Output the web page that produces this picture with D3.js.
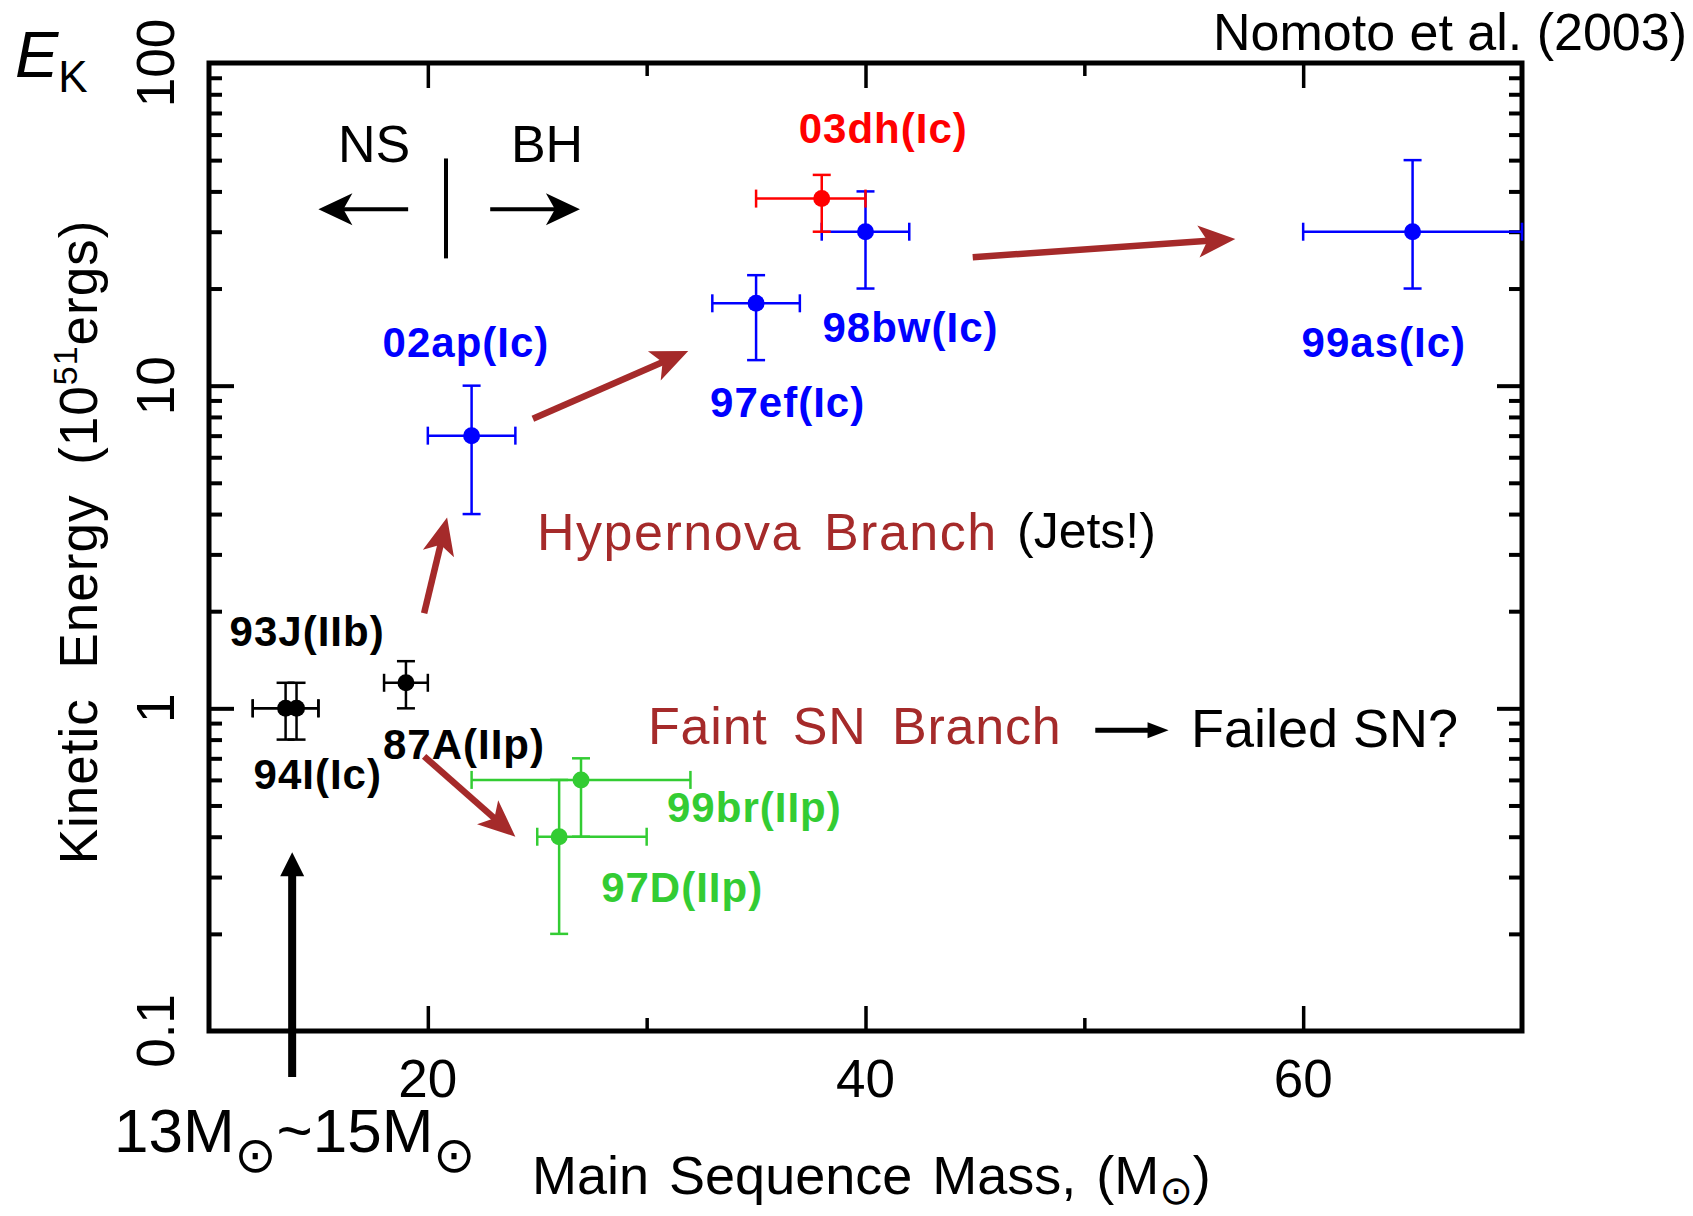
<!DOCTYPE html>
<html>
<head>
<meta charset="utf-8">
<script src="https://cdn.jsdelivr.net/npm/d3@7"></script>
<style>
  body { margin: 0; background: #fff; }
  svg { display: block; }
</style>
</head>
<body>
<div id="chart"></div>
<script>
// supernovae: main sequence mass (Msun) and kinetic energy (1e51 erg)
const names = ["93J(IIb)", "94I(Ic)", "87A(IIp)", "99br(IIp)", "97D(IIp)", "02ap(Ic)", "97ef(Ic)", "98bw(Ic)", "99as(Ic)", "03dh(Ic)"];
const groups = ["normal", "normal", "normal", "faint", "faint", "hyper", "hyper", "hyper", "hyper", "new"];
const mass = [13.5, 14, 19, 27, 26, 22, 35, 40, 65, 38];
const massLo = [12, 12, 18, 22, 25, 20, 33, 38, 60, 35];
const massHi = [15, 15, 20, 32, 30, 24, 37, 42, 70, 40];
const energy = [1, 1, 1.2, 0.6, 0.4, 7, 18, 30, 30, 38];
const energyLo = [0.8, 0.8, 1.0, 0.4, 0.2, 4, 12, 20, 20, 30];
const energyHi = [1.2, 1.2, 1.4, 0.7, 0.6, 10, 22, 40, 50, 45];

const xTicks = [20, 40, 60];
const xMinorTicks = [30, 50];
const yTicks = [0.1, 1, 10, 100];
const yTickLabels = ["0.1", "1", "10", "100"];

// annotation arrows in data coords: [[mass, energy] from, [mass, energy] to]
const branchArrows = [
  [[19.83, 1.97], [20.88, 3.9]],
  [[24.8, 7.9], [31.9, 12.8]],
  [[44.9, 25], [56.9, 28.5]],
  [[19.83, 0.71], [24.0, 0.40]]
];
const nsBhArrows = [
  [[19.1, 35.2], [15.0, 35.2]],
  [[22.85, 35.2], [26.95, 35.2]]
];
const nsBhDivider = [[20.83, 24.8], [20.83, 50.6]];
const massArrow = [[13.8, 0.072], [13.8, 0.358]];
const failedArrow = [[50.5, 0.855], [53.85, 0.855]];

// layout only: label offset from its point (start x, baseline y)
const labelOffsets = [[-56, -62], [-43, 81], [-23, 76], [86, 42], [42, 65], [-89, -79], [-46, 114], [-43, 110], [-111, 125], [-23, -56]];
const groupColor = { normal: "#000000", faint: "#33cc33", hyper: "#0000ff", new: "#ff0000" };
const branchColor = "#a52a2a";

const width = 1693;
const height = 1216;
const font = "'Liberation Sans', Arial, sans-serif";
const sunFont = "'DejaVu Sans'";

const svg = d3.select("#chart")
  .append("svg")
  .attr("width", width)
  .attr("height", height)
  .style("background", "#ffffff");

const x = d3.scaleLinear().domain([10, 70]).range([209, 1522]);
const y = d3.scaleLog().domain([0.1, 100]).range([1031, 63]);

const yMinor = [];
[0.1, 1, 10].forEach(d => { for (let k = 2; k <= 9; k++) yMinor.push(+(d * k).toFixed(2)); });

// ticks, all pointing inside the frame
function tickGroup(axis, tx, ty, sw) {
  const g = svg.append("g").attr("transform", `translate(${tx},${ty})`).call(axis);
  g.select(".domain").remove();
  g.selectAll("line").attr("stroke", "#000").attr("stroke-width", sw);
  return g;
}
const [x0, x1] = x.range();
const [yb, yt] = y.range();
tickGroup(d3.axisBottom(x).tickValues(xTicks).tickSize(-25).tickFormat(""), 0, yb, 3.5);
tickGroup(d3.axisBottom(x).tickValues(xMinorTicks).tickSize(-13).tickFormat(""), 0, yb, 3.5);
tickGroup(d3.axisTop(x).tickValues(xTicks).tickSize(-25).tickFormat(""), 0, yt, 3.5);
tickGroup(d3.axisTop(x).tickValues(xMinorTicks).tickSize(-13).tickFormat(""), 0, yt, 3.5);
tickGroup(d3.axisLeft(y).tickValues([1, 10]).tickSize(-25).tickFormat(""), x0, 0, 4);
tickGroup(d3.axisLeft(y).tickValues(yMinor).tickSize(-13).tickFormat(""), x0, 0, 4);
tickGroup(d3.axisRight(y).tickValues([1, 10]).tickSize(-25).tickFormat(""), x1, 0, 4);
tickGroup(d3.axisRight(y).tickValues(yMinor).tickSize(-13).tickFormat(""), x1, 0, 4);

svg.append("rect")
  .attr("x", x0).attr("y", yt)
  .attr("width", x1 - x0).attr("height", yb - yt)
  .attr("fill", "none").attr("stroke", "#000").attr("stroke-width", 5);

// tick labels
svg.selectAll(".xlab").data(xTicks).enter().append("text")
  .attr("x", d => x(d)).attr("y", 1097)
  .attr("text-anchor", "middle")
  .style("font", `53px ${font}`)
  .text(d => d);

svg.selectAll(".ylab").data(yTicks).enter().append("text")
  .attr("transform", d => `translate(174,${y(d)}) rotate(-90)`)
  .attr("text-anchor", "middle")
  .style("font", `53px ${font}`)
  .text((d, i) => yTickLabels[i]);

// axis titles
const xTitle = svg.append("text")
  .attr("x", 532).attr("y", 1194)
  .style("font", `54px ${font}`)
  .style("word-spacing", "5px");
xTitle.append("tspan").text("Main Sequence Mass, (M");
xTitle.append("tspan").attr("dy", 10).style("font", `40px ${sunFont}`).text("\u2299");
xTitle.append("tspan").attr("dy", -10).text(")");

const yTitle = svg.append("text")
  .attr("transform", "translate(97,542) rotate(-90)")
  .attr("text-anchor", "middle")
  .style("font", `53px ${font}`)
  .style("word-spacing", "14px")
  .style("letter-spacing", "1px");
yTitle.append("tspan").text("Kinetic Energy (10");
yTitle.append("tspan").attr("dy", -20).style("font-size", "34px").text("51");
yTitle.append("tspan").attr("dy", 20).text("ergs)");

// arrows
function arrow(p, q, o) {
  const dx = q[0] - p[0], dy = q[1] - p[1], len = Math.hypot(dx, dy);
  const ux = dx / len, uy = dy / len, px = -uy, py = ux;
  const bx = q[0] - ux * o.head, by = q[1] - uy * o.head;
  const nx = q[0] - ux * (o.head - o.notch), ny = q[1] - uy * (o.head - o.notch);
  svg.append("line")
    .attr("x1", p[0]).attr("y1", p[1]).attr("x2", nx + ux).attr("y2", ny + uy)
    .attr("stroke", o.color).attr("stroke-width", o.shaft);
  svg.append("path")
    .attr("d", `M${q[0]},${q[1]}L${bx + px * o.half},${by + py * o.half}L${nx},${ny}L${bx - px * o.half},${by - py * o.half}Z`)
    .attr("fill", o.color);
}
const toPx = d => [x(d[0]), y(d[1])];

branchArrows.forEach(a => arrow(toPx(a[0]), toPx(a[1]), { color: branchColor, shaft: 6.5, head: 37, half: 16, notch: 9 }));
nsBhArrows.forEach(a => arrow(toPx(a[0]), toPx(a[1]), { color: "#000", shaft: 4, head: 34, half: 16, notch: 9 }));
arrow(toPx(massArrow[0]), toPx(massArrow[1]), { color: "#000", shaft: 8, head: 24, half: 12, notch: 0 });
arrow(toPx(failedArrow[0]), toPx(failedArrow[1]), { color: "#000", shaft: 5, head: 21, half: 8, notch: 0 });

svg.append("line")
  .attr("x1", x(nsBhDivider[0][0])).attr("x2", x(nsBhDivider[1][0]))
  .attr("y1", y(nsBhDivider[0][1])).attr("y2", y(nsBhDivider[1][1]))
  .attr("stroke", "#000").attr("stroke-width", 4);

// error bars and points
const cap = 9;
const pts = svg.append("g");
names.forEach((n, i) => {
  const c = groupColor[groups[i]];
  const g = pts.append("g").attr("stroke", c).attr("stroke-width", 2.5).attr("fill", c);
  const cx = x(mass[i]), cy = y(energy[i]);
  const xl = x(massLo[i]), xh = x(massHi[i]);
  const yl = y(energyLo[i]), yh = y(energyHi[i]);
  g.append("line").attr("x1", xl).attr("x2", xh).attr("y1", cy).attr("y2", cy);
  g.append("line").attr("x1", cx).attr("x2", cx).attr("y1", yl).attr("y2", yh);
  g.append("line").attr("x1", xl).attr("x2", xl).attr("y1", cy - cap).attr("y2", cy + cap);
  g.append("line").attr("x1", xh).attr("x2", xh).attr("y1", cy - cap).attr("y2", cy + cap);
  g.append("line").attr("x1", cx - cap).attr("x2", cx + cap).attr("y1", yl).attr("y2", yl);
  g.append("line").attr("x1", cx - cap).attr("x2", cx + cap).attr("y1", yh).attr("y2", yh);
  g.append("circle").attr("cx", cx).attr("cy", cy).attr("r", 8.5).attr("stroke", "none");
});

svg.selectAll(".snlab").data(names).enter().append("text")
  .attr("x", (d, i) => x(mass[i]) + labelOffsets[i][0])
  .attr("y", (d, i) => y(energy[i]) + labelOffsets[i][1])
  .attr("fill", (d, i) => groupColor[groups[i]])
  .style("font", `bold 42px ${font}`)
  .style("letter-spacing", "1px")
  .text(d => d);

// text annotations
function note(t, tx, ty, size, opts = {}) {
  return svg.append("text")
    .attr("x", tx).attr("y", ty)
    .attr("text-anchor", opts.anchor || "start")
    .attr("fill", opts.color || "#000")
    .style("font", `${opts.style || ""} ${size}px ${font}`)
    .style("word-spacing", opts.ws || "0px")
    .style("letter-spacing", opts.ls || "0px")
    .text(t);
}
note("NS", 374, 162, 52, { anchor: "middle" });
note("BH", 547, 162, 52, { anchor: "middle" });
note("Hypernova Branch", 537, 550, 52, { color: branchColor, ws: "6px", ls: "1.5px" });
note("(Jets!)", 1017, 548, 50);
note("Faint SN Branch", 648, 744, 52, { color: branchColor, ws: "10px", ls: "0.8px" });
note("Failed SN?", 1191, 747, 54);
note("Nomoto et al. (2003)", 1687, 50, 52, { anchor: "end" });

const ek = svg.append("text").attr("x", 15).attr("y", 77).style("font", `italic 65px ${font}`);
ek.append("tspan").text("E");
ek.append("tspan").attr("dy", 15).style("font", `44px ${font}`).text("K");

const mr = svg.append("text").attr("x", 114).attr("y", 1152).style("font", `62px ${font}`);
mr.append("tspan").text("13M");
mr.append("tspan").attr("dy", 20).style("font", `50px ${sunFont}`).text("\u2299");
mr.append("tspan").attr("dy", -20).text("~15M");
mr.append("tspan").attr("dy", 20).style("font", `50px ${sunFont}`).text("\u2299");
</script>
</body>
</html>
